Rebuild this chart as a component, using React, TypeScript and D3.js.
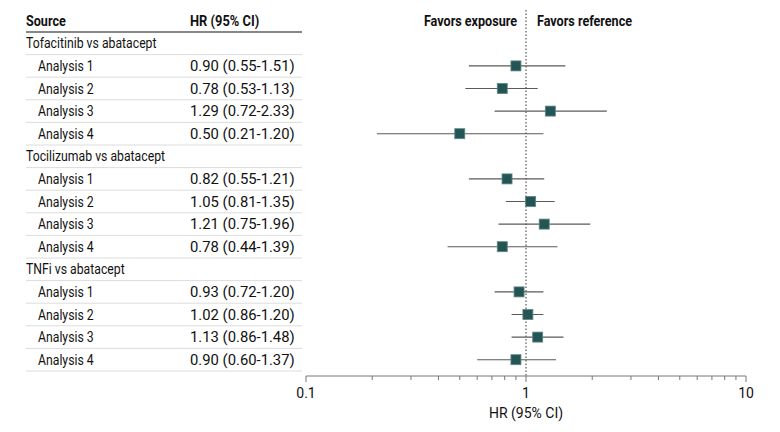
import React from "react";
import * as d3 from "d3";

const groups = ["Tofacitinib vs abatacept", "Tocilizumab vs abatacept", "TNFi vs abatacept"];
const analyses = ["Analysis 1", "Analysis 2", "Analysis 3", "Analysis 4"];
const hr = [
  [0.9, 0.78, 1.29, 0.5],
  [0.82, 1.05, 1.21, 0.78],
  [0.93, 1.02, 1.13, 0.9],
];
const lo = [
  [0.55, 0.53, 0.72, 0.21],
  [0.55, 0.81, 0.75, 0.44],
  [0.72, 0.86, 0.86, 0.6],
];
const hi = [
  [1.51, 1.13, 2.33, 1.2],
  [1.21, 1.35, 1.96, 1.39],
  [1.2, 1.2, 1.48, 1.37],
];
const tickLabels = ["0.1", "1", "10"];
const tickValues = [0.1, 1, 10];

const W = 780;
const H = 432;
const FONT = "Roboto, sans-serif";

function T(props: {
  x: number; y: number; sx?: number; size?: number; bold?: boolean; anchor?: string; children: React.ReactNode;
}) {
  const { x, y, sx = 1, size = 14, bold, anchor = "start", children } = props;
  return (
    <text
      transform={`translate(${x},${y}) scale(${sx},1)`}
      fontSize={size}
      fontWeight={bold ? "bold" : "normal"}
      textAnchor={anchor}
      fill="#111"
    >
      {children}
    </text>
  );
}

export default function App() {
  const x = d3.scaleLog().domain([0.1, 10]).range([306, 746]);
  const rowH = 22.6;
  const top = 32;
  type Row = { label: string; group: boolean; g: number; a: number };
  const rows: Row[] = [];
  groups.forEach((g, gi) => {
    rows.push({ label: g, group: true, g: gi, a: -1 });
    analyses.forEach((a, ai) => rows.push({ label: a, group: false, g: gi, a: ai }));
  });
  const y = (i: number) => top + rowH * i + rowH / 2;
  const axisY = 376;
  const minor: number[] = [];
  for (const d of [0.1, 1]) for (let k = 2; k <= 9; k++) minor.push(d * k);
  const fmt = (v: number) => v.toFixed(2);

  return (
    <svg width={W} height={H} style={{ position: "absolute", left: 0, top: 0, background: "#fff" }} fontFamily={FONT}>
      <rect width={W} height={H} fill="#fff" />
      {/* header */}
      <T x={26} y={26} bold sx={0.9}>Source</T>
      <T x={190} y={26} bold sx={0.92}>HR (95% CI)</T>
      <line x1={26} x2={302} y1={top} y2={top} stroke="#111" strokeWidth={1.2} />
      <T x={517} y={26} bold sx={0.9} anchor="end">Favors exposure</T>
      <T x={537} y={26} bold sx={0.9}>Favors reference</T>
      {/* rows */}
      {rows.map((r, i) => (
        <g key={i}>
          <T x={r.group ? 26 : 38} y={y(i) + 5} sx={0.875}>{r.label}</T>
          {!r.group && (
            <T x={190} y={y(i) + 5} sx={1.06}>
              {`${fmt(hr[r.g][r.a])} (${fmt(lo[r.g][r.a])}-${fmt(hi[r.g][r.a])})`}
            </T>
          )}
          <line x1={26} x2={302} y1={top + rowH * (i + 1)} y2={top + rowH * (i + 1)} stroke="#dcdcdc" strokeWidth={1} />
        </g>
      ))}
      {/* reference line */}
      <line x1={x(1)} x2={x(1)} y1={10} y2={axisY} stroke="#333" strokeWidth={1} strokeDasharray="1.5,2" />
      {/* CIs */}
      {rows.map((r, i) =>
        r.group ? null : (
          <g key={"m" + i}>
            <line x1={x(lo[r.g][r.a])} x2={x(hi[r.g][r.a])} y1={y(i)} y2={y(i)} stroke="#5a5a5a" strokeWidth={1.1} />
            <rect x={x(hr[r.g][r.a]) - 5} y={y(i) - 5} width={10} height={10} fill="#245555" stroke="#5f8585" strokeWidth={0.8} />
          </g>
        )
      )}
      {/* axis */}
      <line x1={x(0.1)} x2={x(10)} y1={axisY} y2={axisY} stroke="#777" strokeWidth={1} />
      {minor.map((v, i) => (
        <line key={"mn" + i} x1={x(v)} x2={x(v)} y1={axisY} y2={axisY + 4} stroke="#777" />
      ))}
      {tickValues.map((v, i) => (
        <g key={"t" + i}>
          <line x1={x(v)} x2={x(v)} y1={axisY} y2={axisY + 6} stroke="#777" />
          <T x={x(v)} y={axisY + 22} anchor="middle">{tickLabels[i]}</T>
        </g>
      ))}
      <T x={x(1)} y={axisY + 42} anchor="middle">HR (95% CI)</T>
    </svg>
  );
}
